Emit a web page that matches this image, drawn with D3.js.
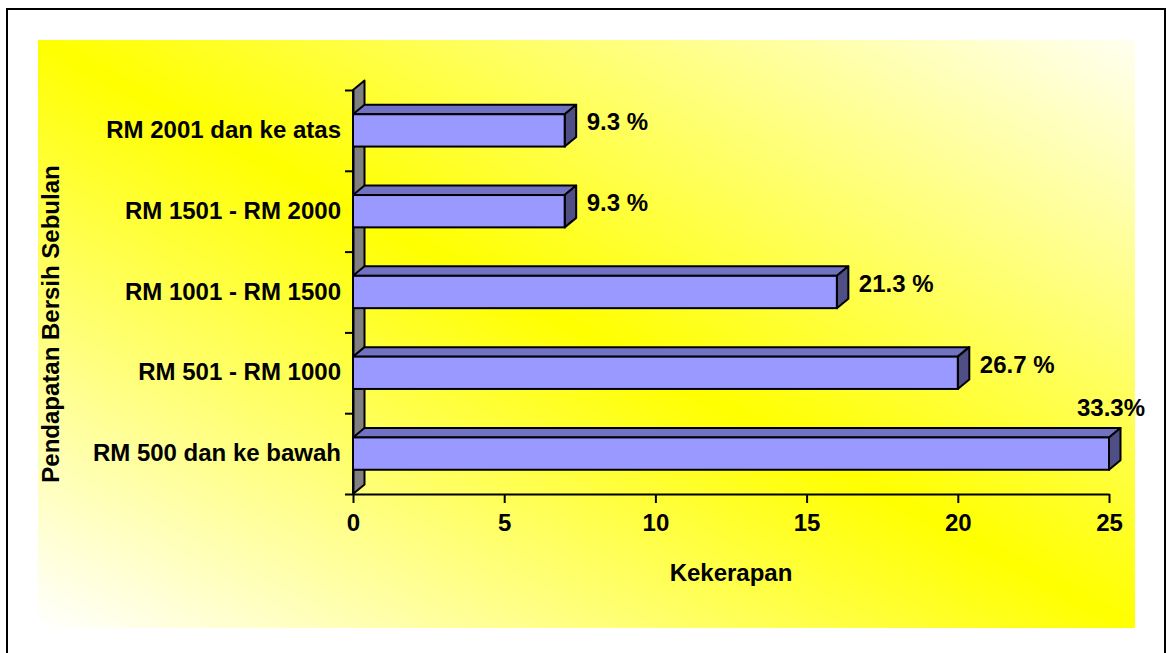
<!DOCTYPE html>
<html>
<head>
<meta charset="utf-8">
<script src="https://cdn.jsdelivr.net/npm/d3@7"></script>
<style>
	body { margin: 0; background: #ffffff; }
	text { font-family: "Liberation Sans", Arial, sans-serif; font-weight: bold; fill: #000000; }
	.axis path, .axis line { stroke: #000000; stroke-width: 2; }
</style>
</head>
<body>
<script>
//self-executing function to keep things local
(function(){

//chart data, bottom category first
var categories = ["RM 500 dan ke bawah", "RM 501 - RM 1000", "RM 1001 - RM 1500", "RM 1501 - RM 2000", "RM 2001 dan ke atas"];
var frequencies = [25, 20, 16, 7, 7];
var percentLabels = ["33.3%", "26.7 %", "21.3 %", "9.3 %", "9.3 %"];
var xTicks = [0, 5, 10, 15, 20, 25];

var width = 1167,
	height = 653,
	fontSize = 24,
	depthX = 11.5, //3d offset of the bars and wall
	depthY = -9.5;

var svg = d3.select("body")
	.append("svg")
	.attr("width", width)
	.attr("height", height);

//yellow background gradient
var grad = svg.append("defs")
	.append("linearGradient")
	.attr("id", "bgGrad")
	.attr("x1", 0).attr("y1", 1)
	.attr("x2", 1).attr("y2", 0);
grad.append("stop").attr("offset", "0").attr("stop-color", "#ffffff");
grad.append("stop").attr("offset", "0.5").attr("stop-color", "#ffff00");
grad.append("stop").attr("offset", "1").attr("stop-color", "#fffff2");

//outer frame
svg.append("rect")
	.attr("x", 7).attr("y", 9)
	.attr("width", 1158).attr("height", 652)
	.attr("fill", "#ffffff")
	.attr("stroke", "#000000")
	.attr("stroke-width", 2);

//chart area
svg.append("rect")
	.attr("x", 38).attr("y", 40)
	.attr("width", 1097).attr("height", 588)
	.attr("fill", "url(#bgGrad)");

//scales
var x = d3.scaleLinear()
	.domain([0, 25])
	.range([353, 1109]);

var y = d3.scaleBand()
	.domain(categories.slice().reverse())
	.range([90, 494])
	.paddingInner(0.6)
	.paddingOuter(0.3);

//index scale for the category boundary ticks
var yEdge = d3.scaleLinear()
	.domain([0, categories.length])
	.range([494, 90]);

//gray side wall
var wallTop = yEdge(categories.length),
	wallBottom = yEdge(0);
svg.append("polygon")
	.attr("points", [
		[x(0), wallTop], [x(0) + depthX, wallTop + depthY],
		[x(0) + depthX, wallBottom + depthY], [x(0), wallBottom]
	].join(" "))
	.attr("fill", "#808080")
	.attr("stroke", "#000000")
	.attr("stroke-width", 2)
	.attr("stroke-linejoin", "round");

//x axis
var xAxis = svg.append("g")
	.attr("class", "axis")
	.attr("transform", "translate(0," + wallBottom + ")")
	.call(d3.axisBottom(x).tickValues(xTicks).tickSize(9).tickSizeOuter(0));
xAxis.selectAll("text")
	.attr("y", 36.5)
	.attr("dy", 0)
	.style("font-size", fontSize + "px");

//left axis with ticks between categories
var yAxis = svg.append("g")
	.attr("class", "axis")
	.attr("transform", "translate(" + x(0) + ",0)")
	.call(d3.axisLeft(yEdge).tickValues(d3.range(categories.length + 1)).tickFormat("").tickSize(8).tickSizeOuter(0));

//bars
var bars = svg.selectAll(".bar")
	.data(categories)
	.enter()
	.append("g")
	.attr("class", "bar");

//top face
bars.append("polygon")
	.attr("points", function(d, i){
		var y0 = y(d), x1 = x(frequencies[i]);
		return [[x(0), y0], [x(0) + depthX, y0 + depthY], [x1 + depthX, y0 + depthY], [x1, y0]].join(" ");
	})
	.attr("fill", "#7272c4")
	.attr("stroke", "#000000")
	.attr("stroke-width", 2)
	.attr("stroke-linejoin", "round");

//right side face
bars.append("polygon")
	.attr("points", function(d, i){
		var y0 = y(d), y1 = y(d) + y.bandwidth(), x1 = x(frequencies[i]);
		return [[x1, y0], [x1 + depthX, y0 + depthY], [x1 + depthX, y1 + depthY], [x1, y1]].join(" ");
	})
	.attr("fill", "#4f4f86")
	.attr("stroke", "#000000")
	.attr("stroke-width", 2)
	.attr("stroke-linejoin", "round");

//front face
bars.append("rect")
	.attr("x", x(0))
	.attr("y", function(d){ return y(d); })
	.attr("width", function(d, i){ return x(frequencies[i]) - x(0); })
	.attr("height", y.bandwidth())
	.attr("fill", "#9999ff")
	.attr("stroke", "#000000")
	.attr("stroke-width", 2);

//category labels
svg.selectAll(".catLabel")
	.data(categories)
	.enter()
	.append("text")
	.attr("class", "catLabel")
	.attr("x", 341)
	.attr("y", function(d){ return y(d) + y.bandwidth() / 2 + 7.5; })
	.attr("text-anchor", "end")
	.style("font-size", fontSize + "px")
	.text(function(d){ return d; });

//value labels, the longest bar gets its label above the bar end
var maxVal = d3.max(frequencies);
svg.selectAll(".valLabel")
	.data(categories)
	.enter()
	.append("text")
	.attr("class", "valLabel")
	.attr("x", function(d, i){
		return frequencies[i] == maxVal ? x(frequencies[i]) + 2 : x(frequencies[i]) + 22;
	})
	.attr("y", function(d, i){
		return frequencies[i] == maxVal ? y(d) - 21 : y(d) + y.bandwidth() / 2;
	})
	.attr("text-anchor", function(d, i){ return frequencies[i] == maxVal ? "middle" : "start"; })
	.style("font-size", fontSize + "px")
	.text(function(d, i){ return percentLabels[i]; });

//axis titles
svg.append("text")
	.attr("x", 731)
	.attr("y", 581)
	.attr("text-anchor", "middle")
	.style("font-size", fontSize + "px")
	.text("Kekerapan");

svg.append("text")
	.attr("transform", "translate(59,324) rotate(-90)")
	.attr("text-anchor", "middle")
	.style("font-size", fontSize + "px")
	.text("Pendapatan Bersih Sebulan");

})();
</script>
</body>
</html>
